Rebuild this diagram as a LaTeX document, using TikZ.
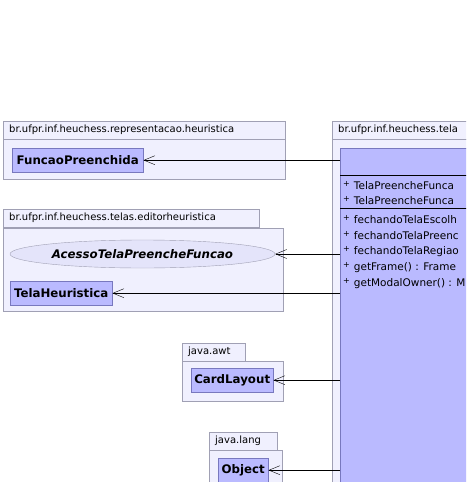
\documentclass[tikz,border=0pt]{standalone}
\usepackage{fontspec}
\setmainfont{DejaVu Sans}
\usetikzlibrary{positioning, arrows.meta, shapes.geometric}
\definecolor{pkgfill}{RGB}{240,240,254}
\definecolor{pkgline}{RGB}{160,160,180}
\definecolor{clsfill}{RGB}{186,186,255}
\definecolor{clsline}{RGB}{120,120,190}
\definecolor{ifcfill}{RGB}{228,228,250}
\newcommand{\pub}{\raisebox{3pt}{\fontsize{8}{9}\selectfont+}\hspace{4pt}}
\tikzset{
        pkgtab/.style={draw=pkgline, fill=pkgfill, anchor=north west, minimum height=18pt, inner xsep=6pt, inner ysep=0pt, align=left}, % package name tab
        pkgbody/.style={draw=pkgline, fill=pkgfill, anchor=north west, inner sep=0pt},
        classbox/.style={draw=clsline, fill=clsfill, anchor=north west, minimum height=24pt, inner sep=0pt, font=\fontsize{11.8}{13}\selectfont\bfseries},
        member/.style={anchor=west, inner sep=0pt, font=\fontsize{10.5}{12}\selectfont},
        dep/.style={-{Straight Barb[length=11pt,width=9pt]}, black}, % dependency arrow
        }

\begin{document}
\begin{tikzpicture}[x=1pt, y=-1pt, font=\fontsize{10}{12}\selectfont]
        \useasboundingbox (0,0) rectangle (466,482);
        \clip (0,0) rectangle (466,482);

        % package representacao.heuristica
        \node[pkgtab, text width=270pt] (p1tab) at (3,121) {br.ufpr.inf.heuchess.representacao.heuristica};
        \node[pkgbody, minimum width=282pt, minimum height=40pt] (p1) at (3,139) {};
        \node[classbox, minimum width=131pt] (fp) at (12,148) {FuncaoPreenchida};

        % package telas.editorheuristica
        \node[pkgtab, text width=244pt] (p2tab) at (3,209) {br.ufpr.inf.heuchess.telas.editorheuristica};
        \node[pkgbody, minimum width=280pt, minimum height=83pt] (p2) at (3,228) {};
        \node[ellipse, draw=pkgline, fill=ifcfill, minimum width=265pt, minimum height=28pt, inner sep=0pt,
              font=\fontsize{11.8}{13}\selectfont\bfseries\itshape] (acesso) at (142.5,254) {AcessoTelaPreencheFuncao};
        \node[classbox, minimum width=102pt] (th) at (10,281) {TelaHeuristica};

        % package java.awt
        \node[pkgtab, text width=51pt] (p3tab) at (182,343) {java.awt};
        \node[pkgbody, minimum width=101pt, minimum height=40pt] (p3) at (182,361) {};
        \node[classbox, minimum width=82pt] (cl) at (191,368) {CardLayout};

        % package java.lang
        \node[pkgtab, text width=56pt] (p4tab) at (209,432) {java.lang};
        \node[pkgbody, minimum width=73pt, minimum height=60pt] (p4) at (209,450) {};
        \node[classbox, minimum width=50pt] (obj) at (218,458) {Object};

        % package of the main class, cut by the right edge
        \node[pkgtab, text width=240pt] (p5tab) at (332,121) {br.ufpr.inf.heuchess.tela};
        \node[pkgbody, minimum width=260pt, minimum height=420pt] (p5) at (332,139) {};
        \node[draw=clsline, fill=clsfill, anchor=north west, minimum width=240pt, minimum height=400pt, inner sep=0pt] (tela) at (340,148) {};
        \draw ([yshift=-27pt]tela.north west) -- ([yshift=-27pt]tela.north east);
        \draw ([yshift=-60pt]tela.north west) -- ([yshift=-60pt]tela.north east);

        \node[member] (a1) at (343,186) {\pub TelaPreencheFunca};
        \node[member] (a2) at (343,201) {\pub TelaPreencheFunca};
        \node[member] (m1) at (343,220) {\pub fechandoTelaEscolh};
        \node[member] (m2) at (343,236) {\pub fechandoTelaPreenc};
        \node[member] (m3) at (343,252) {\pub fechandoTelaRegiao};
        \node[member] (m4) at (343,268) {\pub getFrame() : Frame};
        \node[member] (m5) at (343,284) {\pub getModalOwner() : M};

        % dependencies
        \draw[dep] (tela.west |- fp) -- (fp);
        \draw[dep] (tela.west |- acesso) -- (acesso);
        \draw[dep] (tela.west |- th) -- (th);
        \draw[dep] (tela.west |- cl) -- (cl);
        \draw[dep] (tela.west |- obj) -- (obj);
\end{tikzpicture}
\end{document}
